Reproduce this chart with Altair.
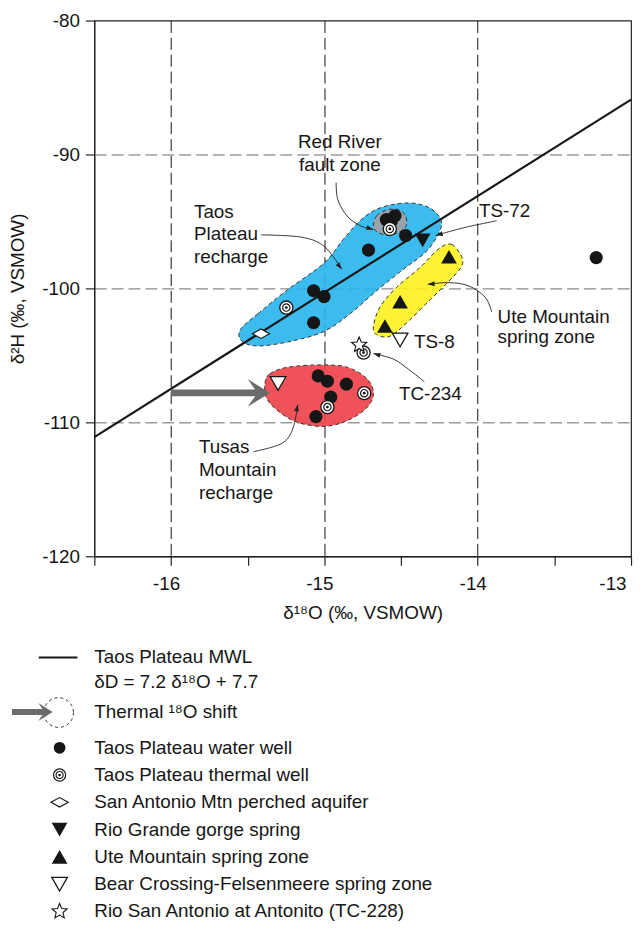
import math
import altair as alt
import pandas as pd

FONT = "Liberation Sans, Arial, sans-serif"
FS = 19
INK = "#161616"

W, H = 541, 540
X_DOM = [-16.5, -13.0]
Y_DOM = [-120.0, -80.0]

# ---------------- data ----------------
# Taos Plateau meteoric water line: dD = 7.2 d18O + 7.7
mwl_slope = 7.2
mwl_intercept = 7.7
mwl_x = [-16.5, -13.0]

# Taos Plateau water wells
well_x = [-14.596, -14.539, -14.564, -14.470, -14.712, -15.070, -15.002, -15.070,
          -15.040, -14.980, -14.856, -14.958, -15.055, -13.227]
well_y = [-94.86, -94.57, -95.00, -96.05, -97.14, -100.17, -100.61, -102.56,
          -106.53, -106.93, -107.15, -108.11, -109.57, -97.70]

# Taos Plateau thermal wells
thermal_x = [-14.573, -15.248, -14.980, -14.740, -14.744]
thermal_y = [-95.56, -101.43, -108.86, -107.82, -104.79]

# San Antonio Mtn perched aquifer
perched_x = [-15.413]
perched_y = [-103.38]

# Rio Grande gorge spring (TS-72)
gorge_x = [-14.359]
gorge_y = [-96.41]

# Ute Mountain spring zone
ute_x = [-14.187, -14.506, -14.605]
ute_y = [-97.63, -100.99, -102.80]

# Bear Crossing-Felsenmeere spring zone
bear_x = [-14.506, -15.302]
bear_y = [-103.85, -107.10]

# Rio San Antonio at Antonito (TC-228)
river_x = [-14.773]
river_y = [-104.22]

# thermal 18O shift arrow
shift_x = [-16.0, -15.355]
shift_y = -107.80

# outlines of the grouped fields
blue_x = [-15.548, -15.431, -15.248, -15.002, -14.873, -14.744, -14.616, -14.444,
          -14.315, -14.241, -14.251, -14.337, -14.487, -14.659, -14.830, -15.002,
          -15.216, -15.431, -15.537]
blue_y = [-103.09, -101.87, -100.17, -98.11, -96.29, -94.71, -93.91, -93.62,
          -93.98, -94.84, -95.80, -97.26, -98.59, -100.17, -101.87, -103.21,
          -103.94, -104.30, -103.94]

gray_x = [-14.680, -14.659, -14.595, -14.519, -14.470, -14.466, -14.508, -14.584, -14.654]
gray_y = [-95.32, -94.59, -94.15, -94.11, -94.59, -95.32, -95.78, -96.02, -95.80]

yellow_x = [-14.101, -14.166, -14.251, -14.380, -14.530, -14.637, -14.680, -14.659,
            -14.573, -14.466, -14.315, -14.187, -14.112]
yellow_y = [-97.75, -96.73, -97.02, -98.48, -99.93, -101.39, -102.85, -103.45,
            -103.58, -102.60, -100.90, -99.45, -98.48]

red_x = [-15.387, -15.355, -15.238, -15.023, -14.852, -14.723, -14.680, -14.723,
         -14.852, -15.002, -15.173, -15.302, -15.377]
red_y = [-107.09, -106.37, -105.88, -105.71, -105.88, -106.73, -107.82, -108.91,
         -109.88, -110.30, -110.01, -109.15, -108.19]

# leader lines of the labels
leaders = {
    "redriver": ([-14.923, -14.912, -14.852, -14.766, -14.680],
                 [-92.10, -93.38, -94.59, -95.32, -95.61]),
    "taos": ([-15.413, -15.151, -15.002, -14.886],
             [-96.00, -96.17, -96.85, -98.57]),
    "ts72": ([-13.876, -14.080, -14.273],
             [-94.95, -95.44, -96.04]),
    "ute": ([-13.908, -13.951, -14.058, -14.187, -14.326],
            [-101.76, -100.66, -99.81, -99.57, -99.69]),
    "tc234": ([-14.348, -14.455, -14.551, -14.680],
              [-106.97, -106.00, -105.27, -104.86]),
    "tusas": ([-15.463, -15.280, -15.207, -15.173],
              [-112.19, -111.59, -110.52, -108.67]),
}

# annotation texts
ann_center_text = ["Red River", "fault zone"]
ann_center_x = [-14.899, -14.899]
ann_center_y = [-89.10, -90.78]

ann_left_text = ["Taos", "Plateau", "recharge", "TS-72", "Ute Mountain", "spring zone",
                 "TS-8", "TC-234", "Tusas", "Mountain", "recharge"]
ann_left_x = [-15.850, -15.850, -15.850, -13.992, -13.870, -13.870,
              -14.416, -14.513, -15.818, -15.818, -15.818]
ann_left_y = [-94.28, -95.95, -97.63, -94.20, -102.12, -103.60,
              -104.03, -107.90, -111.83, -113.58, -115.25]

# legend
legend_head = ["Taos Plateau MWL", "\u03b4D = 7.2 \u03b4\u00b9\u2078O + 7.7", "Thermal \u00b9\u2078O shift"]
legend_labels = ["Taos Plateau water well", "Taos Plateau thermal well",
                 "San Antonio Mtn perched aquifer", "Rio Grande gorge spring",
                 "Ute Mountain spring zone", "Bear Crossing-Felsenmeere spring zone",
                 "Rio San Antonio at Antonito (TC-228)"]

# ---------------- symbol shapes (unit square paths) ----------------
ARROW_PATH = "M0,0L-1.6,-1L-0.9,0L-1.6,1Z"
HEAD_PATH = "M0,0L-2,-0.7L-2,0.7Z"
DIAMOND_PATH = "M-1,0L0,-0.55L1,0L0,0.55Z"
_sp = []
for k in range(10):
    r = 1.0 if k % 2 == 0 else 0.45
    a = math.radians(-90 + 36 * k)
    _sp.append("%.3f,%.3f" % (r * math.cos(a), r * math.sin(a)))
STAR_PATH = "M" + "L".join(_sp) + "Z"

# ---------------- axes ----------------
x_axis = alt.Axis(
    values=[-16.5, -16, -15.5, -15, -14.5, -14, -13.5, -13],
    labelExpr="datum.value % 1 == 0 ? '' + datum.value : ''",
    tickSize=9, labelPadding=9, titlePadding=11, labelOffset=-5,
    grid=True, gridColor="#111111", gridDash=[12, 5], gridWidth=1,
    gridOpacity={"condition": {"test": "datum.value % 1 == 0 && datum.value < -13.5", "value": 1}, "value": 0},
    labelFlush=True, labelFlushOffset=0, labelOverlap=False,
)
y_axis = alt.Axis(
    values=[-120, -110, -100, -90, -80],
    labelExpr="'' + datum.value",
    tickSize=9, labelPadding=6, titlePadding=14,
    grid=True, gridColor="#6a6a6a", gridDash=[12, 5], gridWidth=1,
    gridOpacity={"condition": {"test": "datum.value > -119 && datum.value < -81", "value": 1}, "value": 0},
    labelFlush=False, labelOverlap=False,
)
XS = alt.Scale(domain=X_DOM, nice=False, zero=False)
YS = alt.Scale(domain=Y_DOM, nice=False, zero=False)
XE = alt.X("x:Q", scale=XS, axis=x_axis, title="\u03b4\u00b9\u2078O (\u2030, VSMOW)")
YE = alt.Y("y:Q", scale=YS, axis=y_axis, title="\u03b4\u00b2H (\u2030, VSMOW)")


def pts(xs, ys):
    return pd.DataFrame({"x": xs, "y": ys})


def blob(xs, ys, fill):
    df = pd.DataFrame({"x": xs, "y": ys, "i": list(range(len(xs)))})
    return alt.Chart(df).mark_line(
        interpolate="cardinal-closed", fill=fill, fillOpacity=0.9,
        stroke="#333333", strokeWidth=1, strokeDash=[4, 3]
    ).encode(x=XE, y=YE, order="i:Q")


layers = []
layers.append(blob(blue_x, blue_y, "#27B4EC"))
layers.append(blob(yellow_x, yellow_y, "#FFF01E"))
layers.append(blob(red_x, red_y, "#EE3F48"))
layers.append(blob(gray_x, gray_y, "#A2A2A2"))

# MWL
mwl_df = pd.DataFrame({"x": mwl_x, "y": [mwl_slope * v + mwl_intercept for v in mwl_x]})
layers.append(alt.Chart(mwl_df).mark_line(color=INK, strokeWidth=2.2).encode(x=XE, y=YE))

# thermal shift arrow
arr_df = pd.DataFrame({"x": [shift_x[0]], "x2": [shift_x[1]], "y": [shift_y]})
layers.append(alt.Chart(arr_df).mark_rule(color="#6b6b6b", strokeWidth=7, strokeCap="butt", x2Offset=-12)
              .encode(x=XE, x2="x2:Q", y=YE))
layers.append(alt.Chart(pts([shift_x[1]], [shift_y])).mark_point(
    shape=ARROW_PATH, filled=True, fill="#6b6b6b", size=784, opacity=1, strokeWidth=0
).encode(x=XE, y=YE))

# leader lines + arrowheads
rows, heads = [], []
for key, (lx, ly) in leaders.items():
    for i, (a, b) in enumerate(zip(lx, ly)):
        rows.append({"id": key, "i": i, "x": a, "y": b})
    dx = (lx[-1] - lx[-2]) * W / (X_DOM[1] - X_DOM[0])
    dy = -(ly[-1] - ly[-2]) * H / (Y_DOM[1] - Y_DOM[0])
    heads.append({"x": lx[-1], "y": ly[-1], "ang": math.degrees(math.atan2(dy, dx)) % 360})
layers.append(alt.Chart(pd.DataFrame(rows)).mark_line(interpolate="cardinal", color="#222222", strokeWidth=0.9)
              .encode(x=XE, y=YE, detail="id:N", order="i:Q"))
layers.append(alt.Chart(pd.DataFrame(heads)).mark_point(
    shape=HEAD_PATH, filled=True, fill="#222222", size=49, opacity=1, strokeWidth=0
).encode(x=XE, y=YE, angle=alt.Angle("ang:Q", scale=None)))

# data markers
layers.append(alt.Chart(pts(well_x, well_y)).mark_point(
    shape="circle", filled=True, fill=INK, size=175, opacity=1, strokeWidth=0).encode(x=XE, y=YE))
layers.append(alt.Chart(pts(thermal_x, thermal_y)).mark_point(
    shape="circle", filled=True, fill="white", stroke=INK, strokeWidth=1.3, size=175, opacity=1).encode(x=XE, y=YE))
layers.append(alt.Chart(pts(thermal_x, thermal_y)).mark_point(
    shape="circle", filled=False, stroke=INK, strokeWidth=1.2, size=55, opacity=1).encode(x=XE, y=YE))
layers.append(alt.Chart(pts(thermal_x, thermal_y)).mark_point(
    shape="circle", filled=True, fill=INK, size=8, opacity=1, strokeWidth=0).encode(x=XE, y=YE))
layers.append(alt.Chart(pts(perched_x, perched_y)).mark_point(
    shape=DIAMOND_PATH, filled=True, fill="white", stroke=INK, strokeWidth=1.2, size=300, opacity=1).encode(x=XE, y=YE))
layers.append(alt.Chart(pts(gorge_x, gorge_y)).mark_point(
    shape="triangle-down", filled=True, fill=INK, size=250, opacity=1, strokeWidth=0).encode(x=XE, y=YE))
layers.append(alt.Chart(pts(ute_x, ute_y)).mark_point(
    shape="triangle-up", filled=True, fill=INK, size=250, opacity=1, strokeWidth=0).encode(x=XE, y=YE))
layers.append(alt.Chart(pts(bear_x, bear_y)).mark_point(
    shape="triangle-down", filled=True, fill="white", stroke=INK, strokeWidth=1.3, size=250, opacity=1).encode(x=XE, y=YE))
layers.append(alt.Chart(pts(river_x, river_y)).mark_point(
    shape=STAR_PATH, filled=True, fill="white", stroke=INK, strokeWidth=1.1, size=256, opacity=1).encode(x=XE, y=YE))

# annotations
layers.append(alt.Chart(pd.DataFrame({"x": ann_center_x, "y": ann_center_y, "t": ann_center_text}))
              .mark_text(font=FONT, fontSize=FS, color=INK, align="center", baseline="middle")
              .encode(x=XE, y=YE, text="t:N"))
layers.append(alt.Chart(pd.DataFrame({"x": ann_left_x, "y": ann_left_y, "t": ann_left_text}))
              .mark_text(font=FONT, fontSize=FS, color=INK, align="left", baseline="middle")
              .encode(x=XE, y=YE, text="t:N"))

# ---------------- legend (below the plot, pixel layout) ----------------
one = pd.DataFrame({"k": [0]})
LX_SYM, LX_TXT = -35, 0
L_MWL, L_EQ, L_SHIFT, L_FIRST, L_STEP = 642, 667, 697, 733, 27.5

layers.append(alt.Chart(one).mark_rule(color=INK, strokeWidth=2.2).encode(
    x=alt.value(-56), x2=alt.value(-17), y=alt.value(L_MWL)))
layers.append(alt.Chart(one).mark_point(shape="circle", filled=False, stroke="#333333", strokeWidth=1,
                                        strokeDash=[3, 3], size=900, opacity=1).encode(
    x=alt.value(-36), y=alt.value(L_SHIFT + 0.5)))
layers.append(alt.Chart(one).mark_rule(color="#6b6b6b", strokeWidth=6, strokeCap="butt").encode(
    x=alt.value(-83), x2=alt.value(-50), y=alt.value(L_SHIFT)))
layers.append(alt.Chart(one).mark_point(shape=ARROW_PATH, filled=True, fill="#6b6b6b", size=324,
                                        opacity=1, strokeWidth=0).encode(
    x=alt.value(-42), y=alt.value(L_SHIFT)))

for t, yy in zip(legend_head, [L_MWL, L_EQ, L_SHIFT]):
    layers.append(alt.Chart(one).mark_text(font=FONT, fontSize=FS, color=INK, align="left", baseline="middle",
                                           text=t).encode(x=alt.value(LX_TXT), y=alt.value(yy)))

sym_specs = [
    dict(shape="circle", filled=True, fill=INK, size=140, strokeWidth=0),
    dict(shape="circle", filled=True, fill="white", stroke=INK, strokeWidth=1.2, size=150),
    dict(shape=DIAMOND_PATH, filled=True, fill="white", stroke=INK, strokeWidth=1.2, size=300),
    dict(shape="triangle-down", filled=True, fill=INK, size=250, strokeWidth=0),
    dict(shape="triangle-up", filled=True, fill=INK, size=250, strokeWidth=0),
    dict(shape="triangle-down", filled=True, fill="white", stroke=INK, strokeWidth=1.3, size=250),
    dict(shape=STAR_PATH, filled=True, fill="white", stroke=INK, strokeWidth=1.1, size=256),
]
for i, (lab, spec) in enumerate(zip(legend_labels, sym_specs)):
    yy = L_FIRST + L_STEP * i
    layers.append(alt.Chart(one).mark_point(opacity=1, **spec).encode(x=alt.value(LX_SYM), y=alt.value(yy)))
    if i == 1:
        layers.append(alt.Chart(one).mark_point(shape="circle", filled=False, stroke=INK, strokeWidth=1.1,
                                                size=50, opacity=1).encode(x=alt.value(LX_SYM), y=alt.value(yy)))
        layers.append(alt.Chart(one).mark_point(shape="circle", filled=True, fill=INK, size=7, opacity=1,
                                                strokeWidth=0).encode(x=alt.value(LX_SYM), y=alt.value(yy)))
    layers.append(alt.Chart(one).mark_text(font=FONT, fontSize=FS, color=INK, align="left", baseline="middle",
                                           text=lab).encode(x=alt.value(LX_TXT), y=alt.value(yy)))

chart = alt.layer(*layers).properties(
    width=W, height=H,
    padding={"left": 0, "top": 0, "right": 0, "bottom": 0},
).configure_view(
    stroke="#222222", strokeWidth=1.2
).configure_axis(
    labelFont=FONT, titleFont=FONT, labelFontSize=FS, titleFontSize=FS,
    titleFontWeight="normal", labelColor=INK, titleColor=INK,
    domainColor="#222222", tickColor="#222222", domainWidth=1.2, tickWidth=1.2,
)

chart.save("out.html", embed_options={"renderer": "svg", "actions": False})
